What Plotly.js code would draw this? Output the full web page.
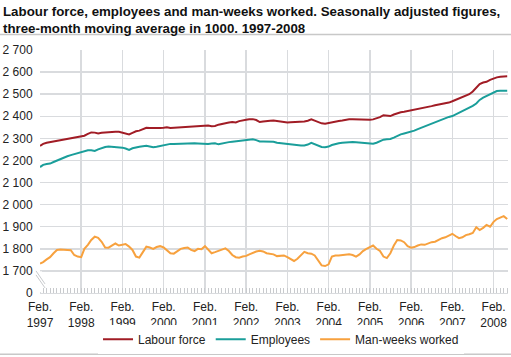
<!DOCTYPE html>
<html>
<head>
<meta charset="utf-8">
<script src="https://cdn.plot.ly/plotly-3.0.1.min.js"></script>
<style>
html,body{margin:0;padding:0;background:#fff;}
#chart{width:511px;height:357px;}
</style>
</head>
<body>
<div id="chart"></div>
<script>
// Monthly, Feb 1997 – Jun 2008 (three-month moving average, in 1000)
var startYear = 1997, startMonth = 2;

var labourForce = [
  2266, 2275, 2280, 2283, 2285, 2290, 2292, 2296, 2298, 2300, 2303, 2306,
  2310, 2312, 2320, 2327, 2326, 2322, 2325, 2327, 2328, 2329, 2330, 2330,
  2326, 2322, 2318, 2325, 2332, 2335, 2342, 2348, 2347, 2346, 2348, 2347,
  2348, 2350, 2347, 2348, 2350, 2352, 2353, 2352, 2355, 2356, 2357, 2356,
  2360, 2358, 2355, 2356, 2362, 2366, 2370, 2372, 2374, 2372, 2378, 2382,
  2384, 2386, 2387, 2383, 2374, 2376, 2379, 2380, 2381, 2378, 2375, 2373,
  2372, 2373, 2374, 2372, 2374, 2376, 2380, 2386, 2380, 2372, 2368, 2366,
  2370, 2374, 2377, 2379, 2381, 2384, 2386, 2386, 2385, 2384, 2383, 2384,
  2384, 2386, 2390, 2396, 2405, 2404, 2401, 2408, 2414, 2418, 2420, 2423,
  2426, 2430, 2432, 2436, 2440, 2442, 2446, 2450, 2453, 2455, 2458, 2462,
  2468, 2474, 2480, 2485, 2490, 2500, 2512, 2530, 2546, 2553, 2556, 2565,
  2572, 2576, 2579, 2580, 2581
];

var employees = [
  2170, 2180, 2184, 2186, 2193, 2200, 2208, 2214, 2219, 2224, 2228, 2232,
  2236, 2241, 2246, 2246, 2243, 2250, 2256, 2261, 2263, 2262, 2262, 2260,
  2258, 2254, 2248, 2255, 2260, 2262, 2264, 2266, 2263, 2260, 2262, 2265,
  2268, 2274, 2275, 2274, 2275, 2276, 2277, 2276, 2278, 2278, 2277, 2276,
  2273, 2275, 2277, 2278, 2273, 2277, 2280, 2283, 2285, 2287, 2289, 2291,
  2293, 2295, 2296, 2292, 2286, 2286, 2285, 2285, 2285, 2280, 2278, 2276,
  2274, 2272, 2270, 2269, 2268, 2268, 2272, 2280, 2274, 2266, 2261, 2260,
  2263, 2270, 2275, 2278, 2280, 2282, 2284, 2283, 2282, 2281, 2279, 2277,
  2275, 2276, 2280, 2286, 2294, 2296, 2297, 2303, 2312, 2318, 2322, 2326,
  2329, 2335, 2342, 2348, 2355, 2360, 2367, 2373, 2380, 2386, 2392, 2397,
  2401, 2408, 2416, 2423, 2430, 2437, 2447, 2458, 2474, 2484, 2492, 2500,
  2510, 2514, 2516, 2516, 2516
];

var manWeeks = [
  1733, 1740, 1752, 1762, 1780, 1795, 1797, 1795, 1794, 1794, 1772, 1765,
  1762, 1800, 1818, 1840, 1855, 1850, 1832, 1806, 1805, 1815, 1824, 1815,
  1820, 1822, 1810, 1795, 1765, 1760, 1785, 1810, 1806, 1800, 1808, 1812,
  1806, 1795, 1780, 1778, 1790, 1800, 1804, 1806, 1795, 1790, 1800, 1798,
  1812, 1795, 1780, 1785, 1790, 1798, 1802, 1790, 1772, 1762, 1760, 1765,
  1768, 1775, 1782, 1788, 1791, 1788, 1780, 1778, 1775, 1767, 1768, 1770,
  1762, 1752, 1745, 1755, 1770, 1786, 1780, 1778, 1770, 1745, 1725, 1722,
  1730, 1765, 1770, 1770, 1772, 1772, 1775, 1772, 1765, 1775, 1790, 1800,
  1808, 1815, 1800, 1790, 1765, 1758, 1780, 1815, 1840, 1838, 1830, 1812,
  1805, 1808, 1815, 1820, 1818, 1825, 1830, 1832, 1840, 1848, 1852, 1860,
  1868, 1858, 1848, 1852, 1862, 1866, 1872, 1898, 1885, 1895, 1908, 1900,
  1922, 1935, 1942, 1948, 1935
];

var yTickVals = [1600, 1700, 1800, 1900, 2000, 2100, 2200, 2300, 2400, 2500, 2600, 2700];
var yTickText = ['0', '1 700', '1 800', '1 900', '2 000', '2 100', '2 200', '2 300', '2 400', '2 500', '2 600', '2 700'];
var tickYears = [1997, 1998, 1999, 2000, 2001, 2002, 2003, 2004, 2005, 2006, 2007, 2008];
var titleText = '<b>Labour force, employees and man-weeks worked. Seasonally adjusted figures,<br>three-month moving average in 1000. 1997-2008</b>';

function pad(n){return (n<10?'0':'')+n;}
var months = [];
for (var i = 0; i < labourForce.length; i++) {
  var m = startMonth - 1 + i;
  var y = startYear + Math.floor(m / 12);
  months.push(y + '-' + pad(m % 12 + 1) + '-01');
}
var xTickVals = tickYears.map(function(y){return y + '-02-01';});
var xTickText = tickYears.map(function(y){return 'Feb.<br>' + y;});

var traces = [
  {x: months, y: labourForce, name: 'Labour force', type: 'scatter', mode: 'lines',
   line: {color: '#a11c25', width: 2}},
  {x: months, y: employees, name: 'Employees', type: 'scatter', mode: 'lines',
   line: {color: '#1a9e9a', width: 2}},
  {x: months, y: manWeeks, name: 'Man-weeks worked', type: 'scatter', mode: 'lines',
   line: {color: '#f7a13e', width: 2}}
];

var grid = '#d9dbde';
var layout = {
  width: 511, height: 357,
  margin: {l: 40, r: 3, t: 49.5, b: 63.5},
  paper_bgcolor: '#fff', plot_bgcolor: '#fff',
  font: {family: 'Liberation Sans, Arial, sans-serif', size: 12, color: '#222'},
  annotations: [{
    text: titleText, xref: 'paper', yref: 'paper',
    x: -0.0812, xanchor: 'left', y: 1.194, yanchor: 'top', align: 'left',
    showarrow: false, borderpad: 0,
    font: {family: 'Liberation Sans, Arial, sans-serif', size: 13.3, color: '#111'}
  }],
  showlegend: true,
  legend: {orientation: 'h', x: 0.515, xanchor: 'center', y: -0.19, yanchor: 'middle',
           font: {size: 12, color: '#222'}, itemwidth: 30, traceorder: 'normal'},
  xaxis: {
    type: 'date', range: ['1997-02-01', '2008-06-08'],
    tickvals: xTickVals, ticktext: xTickText, tickangle: 0,
    showgrid: true, gridcolor: grid, gridwidth: 1.5,
    zeroline: false, showline: true, linecolor: grid, linewidth: 1,
    ticks: '', ticklabelstandoff: 3, tickfont: {size: 12, color: '#222'},
    minor: {dtick: 'M1', tick0: '1997-02-01', ticks: 'inside', ticklen: 5, tickcolor: '#c8cacd', tickwidth: 1, showgrid: false}
  },
  yaxis: {
    range: [1600, 2700], tickvals: yTickVals, ticktext: yTickText,
    showgrid: true, gridcolor: grid, gridwidth: 1.5, zeroline: false,
    showline: false, ticks: 'outside', ticklen: 4, tickcolor: 'rgba(0,0,0,0)',
    tickfont: {size: 12, color: '#222'}
  },
  shapes: [
    // axis break: hide gridline between 0 and 1 700
    {type: 'rect', xref: 'paper', xsizemode: 'pixel', xanchor: 0, x0: -2, x1: 2,
     yref: 'y', y0: 1603, y1: 1698, fillcolor: '#fff', line: {width: 0}, layer: 'above'},
    {type: 'line', xref: 'paper', xsizemode: 'pixel', xanchor: 0, x0: -4, x1: 5,
     yref: 'y', ysizemode: 'pixel', yanchor: 1700, y0: 0, y1: -13, line: {color: '#c8cacd', width: 1}, layer: 'above'},
    {type: 'line', xref: 'paper', xsizemode: 'pixel', xanchor: 0, x0: -4, x1: 5,
     yref: 'y', ysizemode: 'pixel', yanchor: 1700, y0: -4, y1: -17, line: {color: '#c8cacd', width: 1}, layer: 'above'},
    // separator lines
    {type: 'line', xref: 'paper', x0: -0.0855, x1: 1.007, yref: 'paper', y0: 1.0635, y1: 1.0635,
     line: {color: '#c8c8c8', width: 1.5}},
    {type: 'line', xref: 'paper', x0: -0.0855, x1: 1.007, yref: 'paper', y0: -0.252, y1: -0.252,
     line: {color: '#c8c8c8', width: 1.5}}
  ]
};

Plotly.newPlot('chart', traces, layout, {displayModeBar: false, staticPlot: true});
</script>
</body>
</html>
